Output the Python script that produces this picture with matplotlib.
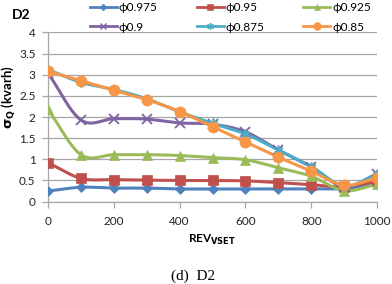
import numpy as np
import matplotlib
matplotlib.use("Agg")
import matplotlib.pyplot as plt
from matplotlib.lines import Line2D

plt.rcParams['font.family'] = ['Lato', 'DejaVu Sans']

rev = [0, 100, 200, 300, 400, 500, 600, 700, 800, 900, 1000]
labels = ["ϕ0.975", "ϕ0.95", "ϕ0.925", "ϕ0.9", "ϕ0.875", "ϕ0.85"]
s0975 = [0.25, 0.34, 0.32, 0.32, 0.30, 0.30, 0.30, 0.30, 0.30, 0.31, 0.42]
s095 = [0.92, 0.55, 0.52, 0.51, 0.50, 0.50, 0.49, 0.45, 0.40, 0.35, 0.48]
s0925 = [2.18, 1.11, 1.11, 1.11, 1.09, 1.04, 0.99, 0.80, 0.60, 0.26, 0.41]
s09 = [3.04, 1.93, 1.96, 1.95, 1.86, 1.83, 1.65, 1.22, 0.82, 0.35, 0.66]
s0875 = [3.12, 2.82, 2.65, 2.43, 2.12, 1.85, 1.60, 1.22, 0.83, 0.37, 0.65]
s085 = [3.08, 2.86, 2.63, 2.41, 2.13, 1.77, 1.41, 1.05, 0.72, 0.39, 0.56]
series = [s0975, s095, s0925, s09, s0875, s085]

colors = ["#4F81BD", "#C0504D", "#9BBB59", "#8064A2", "#4BACC6", "#F79646"]
markers = ["D", "s", "^", "x", (6, 2, 0), "o"]
msizes = [5, 7, 7, 7, 7, 8]

def smooth(x, y, n=20):
    # Catmull-Rom style smoothing (Excel "smoothed line") for drawing only
    x = np.asarray(x, float); y = np.asarray(y, float)
    px = np.concatenate([[2*x[0]-x[1]], x, [2*x[-1]-x[-2]]])
    py = np.concatenate([[2*y[0]-y[1]], y, [2*y[-1]-y[-2]]])
    xs, ys = [], []
    t = np.linspace(0, 1, n, endpoint=False)
    for i in range(1, len(px)-2):
        for arr, out in ((px, xs), (py, ys)):
            p0, p1, p2, p3 = arr[i-1], arr[i], arr[i+1], arr[i+2]
            b1 = p1 + (p2 - p0) / 6.0
            b2 = p2 - (p3 - p1) / 6.0
            out.extend((1-t)**3*p1 + 3*(1-t)**2*t*b1 + 3*(1-t)*t**2*b2 + t**3*p2)
    xs.append(x[-1]); ys.append(y[-1])
    return np.array(xs), np.array(ys)

fig = plt.figure(figsize=(3.92, 2.84), dpi=100)
ax = fig.add_axes([0.1224, 0.29, 0.962-0.1224, 0.886-0.29])

handles = []
for s, c, m, ms, lab in zip(series, colors, markers, msizes, labels):
    sx, sy = smooth(rev, s)
    ax.plot(sx, sy, color=c, lw=2.2, zorder=3)
    thin = m in ("x",) or isinstance(m, tuple)
    mew = 1.3 if thin else 0.5
    ax.plot(rev, s, ls="none", marker=m, ms=ms, color=c, mec=c, mew=mew, zorder=4)
    h = Line2D([], [], color=c, lw=2.0, marker=m, ms=ms*0.7, mec=c, mew=mew*0.8)
    handles.append(h)

ax.set_xlim(0, 1000)
ax.set_ylim(0, 4)
ax.set_xticks([0, 200, 400, 600, 800, 1000])
ax.set_yticks([0, 0.5, 1, 1.5, 2, 2.5, 3, 3.5, 4])
ax.set_yticklabels(["0", "0.5", "1", "1.5", "2", "2.5", "3", "3.5", "4"])
ax.grid(axis="y", color="#A6A6A6", lw=0.9)
ax.set_axisbelow(True)
for sp in ["top", "right"]:
    ax.spines[sp].set_visible(False)
for sp in ["left", "bottom"]:
    ax.spines[sp].set_color("#A6A6A6")
    ax.spines[sp].set_linewidth(0.9)
ax.tick_params(axis="both", labelsize=8.5, colors="#A6A6A6", labelcolor="#222222", length=4, width=0.9)
ax.tick_params(axis="x", pad=6.5)
ax.tick_params(axis="y", pad=5)

ax.set_xlabel(r"REV$_{\mathbf{VSET}}$", fontsize=8.5, fontweight="bold", labelpad=4)
ax.set_ylabel(r"$\mathbf{\sigma}_{\mathbf{Q}}$ (kvarh)", fontsize=9.5, fontweight="bold")
ax.yaxis.set_label_coords(-0.093, 0.62)

fig.legend(handles=[handles[0], handles[3], handles[1], handles[4], handles[2], handles[5]],
           labels=[labels[0], labels[3], labels[1], labels[4], labels[2], labels[5]],
           ncol=3, loc="upper left", bbox_to_anchor=(0.229, 0.992), frameon=False,
           fontsize=8.5, handlelength=2.3, columnspacing=3.3, handletextpad=0.15,
           labelspacing=0.7, borderaxespad=0, borderpad=0)

fig.text(0.031, 0.947, "D2", fontsize=10, fontweight="bold", va="center", ha="left")
fig.text(0.492, 0.028, "(d)  D2", fontsize=11, family="Liberation Serif", ha="center", va="center")

fig.savefig("out.png", dpi=100)
